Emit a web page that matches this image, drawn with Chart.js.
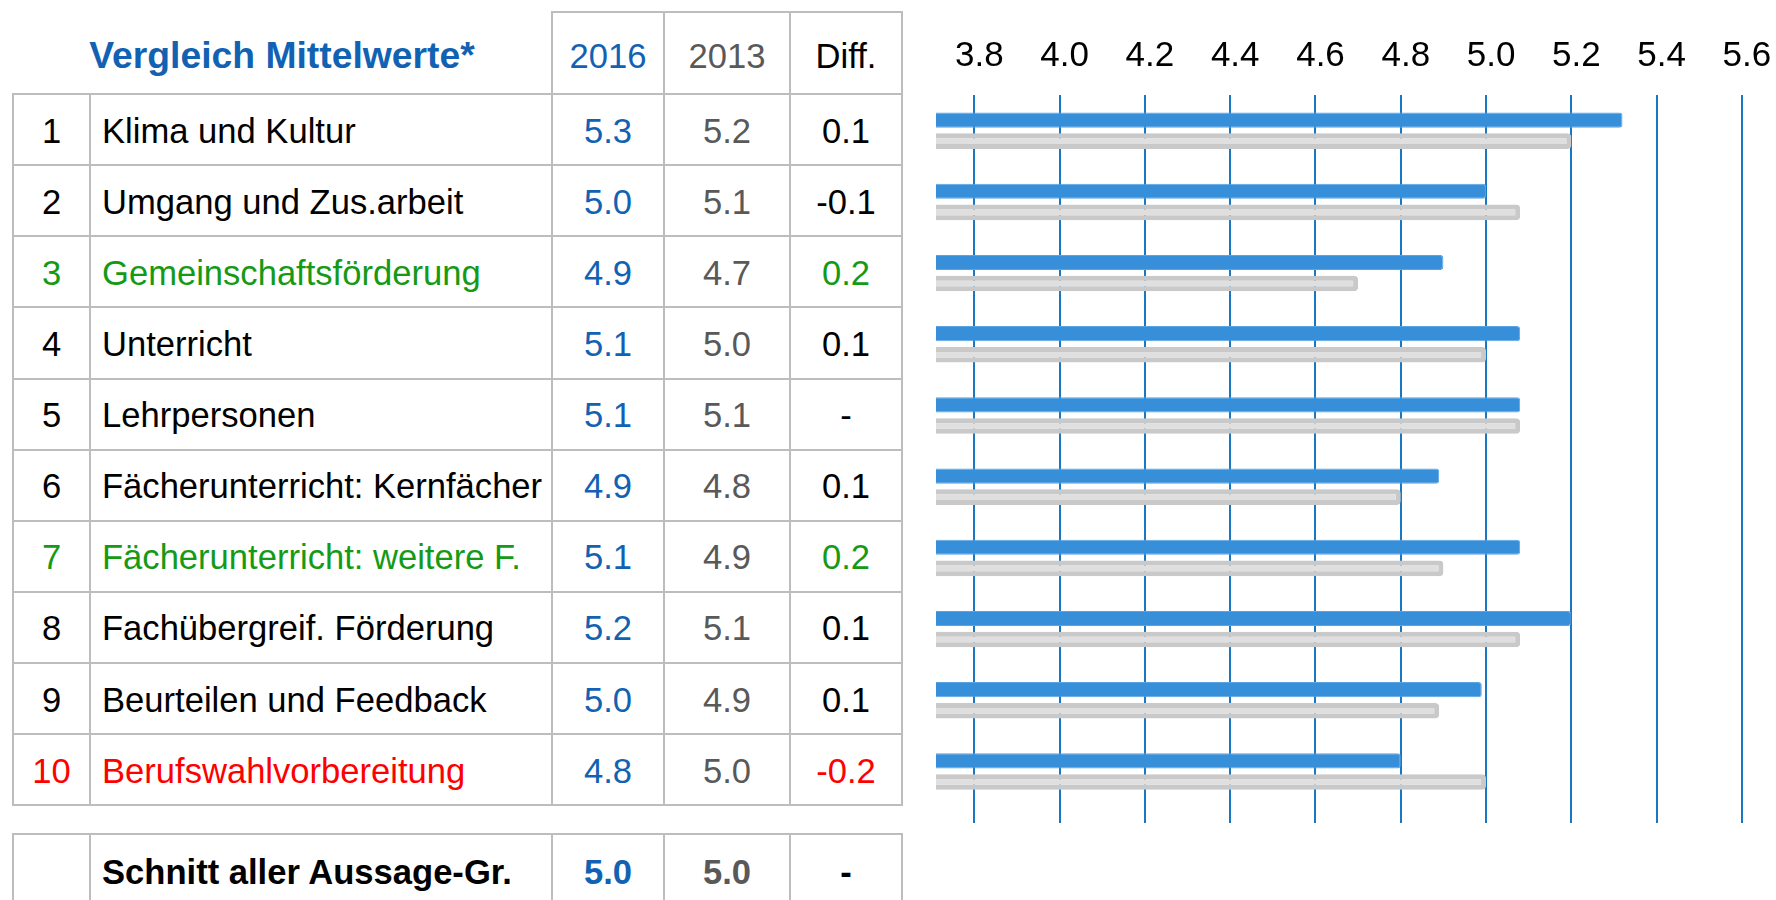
<!DOCTYPE html>
<html>
<head>
<meta charset="utf-8">
<title>Vergleich Mittelwerte</title>
<script src="https://cdn.jsdelivr.net/npm/chart.js@4.4.1/dist/chart.umd.min.js"></script>
<style>
  html, body { margin: 0; padding: 0; background: #fff; }
  body {
    width: 1776px; height: 900px; position: relative; overflow: hidden;
    font-family: "Liberation Sans", Arial, sans-serif; color: #000;
  }
  table {
    position: absolute; left: 12px;
    border-collapse: collapse; table-layout: fixed;
    font-size: 34.6px;
  }
  #mainTable { top: 11px; }
  #sumTable { top: 833px; }
  td {
    border: 2px solid #bdbdbd; padding: 3px 0 0 0;
    white-space: nowrap; text-align: center; vertical-align: middle;
  }
  td.lbl { text-align: left; padding-left: 11px; }
  tr.head td { padding-top: 6px; }
  td.title {
    border-top: none; border-left: none;
    font-weight: bold; font-size: 37.3px; color: #1262b3;
  }
  .c16 { color: #1262b3; }
  .c13 { color: #595959; }
  #sumTable td { font-weight: bold; }
  #chartBox { position: absolute; left: 900px; top: 0; width: 876px; height: 900px; }
</style>
</head>
<body>

<table id="mainTable">
  <colgroup>
    <col style="width:77px"><col style="width:462px"><col style="width:112px"><col style="width:126px"><col style="width:112px">
  </colgroup>
  <tbody id="mainBody">
    <tr class="head" style="height:82px">
      <td class="title" colspan="2">Vergleich Mittelwerte*</td>
      <td class="c16">2016</td>
      <td class="c13">2013</td>
      <td>Diff.</td>
    </tr>
  </tbody>
</table>

<table id="sumTable">
  <colgroup>
    <col style="width:77px"><col style="width:462px"><col style="width:112px"><col style="width:126px"><col style="width:112px">
  </colgroup>
  <tbody id="sumBody"></tbody>
</table>

<div id="chartBox"><canvas id="compareChart"></canvas></div>

<script>
// Aussage-Gruppen
const categories = [
    'Klima und Kultur',
    'Umgang und Zus.arbeit',
    'Gemeinschaftsförderung',
    'Unterricht',
    'Lehrpersonen',
    'Fächerunterricht: Kernfächer',
    'Fächerunterricht: weitere F.',
    'Fachübergreif. Förderung',
    'Beurteilen und Feedback',
    'Berufswahlvorbereitung'
];

// Mittelwerte (table shows them rounded)
const values2016 = [5.32, 5.00, 4.90, 5.08, 5.08, 4.89, 5.08, 5.20, 4.99, 4.80];
const values2013 = [5.20, 5.08, 4.70, 5.00, 5.08, 4.80, 4.90, 5.08, 4.89, 5.00];
const diffs = ['0.1', '-0.1', '0.2', '0.1', '-', '0.1', '0.2', '0.1', '0.1', '-0.2'];

// Schnitt aller Aussage-Gruppen
const avgLabel = 'Schnitt aller Aussage-Gr.';
const avg2016 = '5.0';
const avg2013 = '5.0';
const avgDiff = '-';

// x axis
const tickValues = [3.8, 4.0, 4.2, 4.4, 4.6, 4.8, 5.0, 5.2, 5.4, 5.6];
const axisMin = 3.71;
const axisMax = 5.68;

// colors
const GREEN = '#159a15';
const RED = '#ff0000';
const GRID_BLUE = '#1a78c2';

// build table rows
function buildTable() {
    const body = document.getElementById('mainBody');
    categories.forEach(function(cat, i) {
        const d = parseFloat(diffs[i]);
        let color = '#000';
        if (d >= 0.2) color = GREEN;
        if (d <= -0.2) color = RED;
        const tr = document.createElement('tr');
        tr.style.height = '71.13px';
        tr.innerHTML =
            '<td style="color:' + color + '">' + (i + 1) + '</td>' +
            '<td class="lbl" style="color:' + color + '">' + cat + '</td>' +
            '<td class="c16">' + values2016[i].toFixed(1) + '</td>' +
            '<td class="c13">' + values2013[i].toFixed(1) + '</td>' +
            '<td style="color:' + color + '">' + diffs[i] + '</td>';
        body.appendChild(tr);
    });

    const sum = document.getElementById('sumBody');
    const tr = document.createElement('tr');
    tr.style.height = '74px';
    tr.innerHTML =
        '<td></td>' +
        '<td class="lbl">' + avgLabel + '</td>' +
        '<td class="c16">' + avg2016 + '</td>' +
        '<td class="c13">' + avg2013 + '</td>' +
        '<td>' + avgDiff + '</td>';
    sum.appendChild(tr);
}

function setTicks(scale) {
    scale.ticks = tickValues.map(function(v) { return { value: v }; });
}

function initCompareChart() {
    const ctx = document.getElementById('compareChart');
    new Chart(ctx.getContext('2d'), {
        type: 'bar',
        data: {
            labels: categories,
            datasets: [{
                label: '2016',
                data: values2016,
                backgroundColor: '#378fda',
                borderColor: '#5aa4e4',
                borderWidth: 1,
                borderRadius: 3,
                borderSkipped: false,
                categoryPercentage: 0.592,
                barPercentage: 0.72,
                xAxisID: 'x'
            }, {
                label: '2013',
                data: values2013,
                backgroundColor: '#dfdfdf',
                borderColor: '#c9c9c9',
                borderWidth: 5,
                borderRadius: 4,
                borderSkipped: false,
                categoryPercentage: 0.592,
                barPercentage: 0.74,
                xAxisID: 'x'
            }]
        },
        options: {
            indexAxis: 'y',
            responsive: true,
            maintainAspectRatio: false,
            animation: false,
            layout: { padding: { left: 36, right: 0, top: 17, bottom: 77 } },
            plugins: {
                legend: { display: false },
                tooltip: { enabled: false }
            },
            scales: {
                x: {
                    type: 'linear',
                    position: 'top',
                    min: axisMin,
                    max: axisMax,
                    afterBuildTicks: setTicks,
                    grid: { color: GRID_BLUE, lineWidth: 2, drawTicks: false },
                    border: { display: false },
                    ticks: {
                        color: '#000',
                        // tall line height gives the gap above the plot (padding would shrink the axis)
                        font: { size: 35, lineHeight: '78px', family: '"Liberation Sans", Arial, sans-serif' },
                        padding: 0,
                        labelOffset: 5,
                        autoSkip: false,
                        maxRotation: 0,
                        callback: function(v) { return Number(v).toFixed(1); }
                    }
                },
                x2: {
                    type: 'linear',
                    axis: 'x',
                    position: 'bottom',
                    min: axisMin,
                    max: axisMax,
                    afterBuildTicks: setTicks,
                    grid: { color: GRID_BLUE, lineWidth: 2, drawOnChartArea: false, drawTicks: true, tickLength: 16 },
                    border: { display: false },
                    ticks: { display: false }
                },
                y: { display: false }
            }
        }
    });
}

buildTable();
initCompareChart();
</script>
</body>
</html>
